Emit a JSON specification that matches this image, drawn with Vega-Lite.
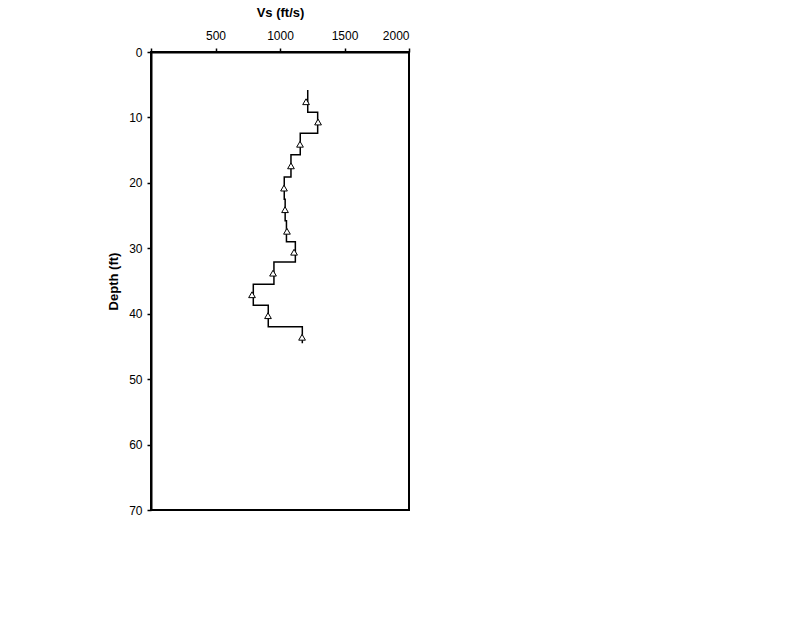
{
  "$schema": "https://vega.github.io/schema/vega-lite/v6.json",
  "width": 258,
  "height": 458,
  "autosize": "none",
  "padding": {"left": 151, "top": 52, "right": 391, "bottom": 108},
  "background": "white",
  "config": {
    "view": {"stroke": "black", "strokeWidth": 2},
    "font": "Liberation Sans",
    "axis": {
      "domainColor": "black", "domainWidth": 2, "tickColor": "black", "tickWidth": 1.5, "tickSize": 4,
      "labelColor": "black", "labelFont": "Liberation Sans", "labelFontSize": 12,
      "titleColor": "black", "titleFont": "Liberation Sans", "titleFontSize": 13, "titleFontWeight": "bold",
      "grid": false
    }
  },
  "datasets": {
    "profile": [
      {"i": 1, "vs": 1215, "depth": 5.8},
      {"i": 2, "vs": 1215, "depth": 9.2},
      {"i": 3, "vs": 1292, "depth": 9.2},
      {"i": 4, "vs": 1292, "depth": 12.4},
      {"i": 5, "vs": 1157, "depth": 12.4},
      {"i": 6, "vs": 1157, "depth": 15.7},
      {"i": 7, "vs": 1085, "depth": 15.7},
      {"i": 8, "vs": 1085, "depth": 19.1},
      {"i": 9, "vs": 1033, "depth": 19.1},
      {"i": 10, "vs": 1033, "depth": 22.5},
      {"i": 11, "vs": 1040, "depth": 22.5},
      {"i": 12, "vs": 1040, "depth": 25.8},
      {"i": 13, "vs": 1050, "depth": 25.8},
      {"i": 14, "vs": 1050, "depth": 29.0},
      {"i": 15, "vs": 1119, "depth": 29.0},
      {"i": 16, "vs": 1119, "depth": 32.1},
      {"i": 17, "vs": 953, "depth": 32.1},
      {"i": 18, "vs": 953, "depth": 35.5},
      {"i": 19, "vs": 793, "depth": 35.5},
      {"i": 20, "vs": 793, "depth": 38.7},
      {"i": 21, "vs": 909, "depth": 38.7},
      {"i": 22, "vs": 909, "depth": 42.0},
      {"i": 23, "vs": 1173, "depth": 42.0},
      {"i": 24, "vs": 1173, "depth": 44.5}
    ],
    "points": [
      {"vs": 1202, "depth": 7.6},
      {"vs": 1295, "depth": 10.7},
      {"vs": 1155, "depth": 14.1},
      {"vs": 1085, "depth": 17.4},
      {"vs": 1031, "depth": 20.8},
      {"vs": 1039, "depth": 24.1},
      {"vs": 1054, "depth": 27.4},
      {"vs": 1109, "depth": 30.6},
      {"vs": 946, "depth": 33.8},
      {"vs": 783, "depth": 37.1},
      {"vs": 907, "depth": 40.3},
      {"vs": 1171, "depth": 43.6}
    ]
  },
  "encoding": {
    "x": {
      "field": "vs", "type": "quantitative",
      "scale": {"domain": [0, 2000], "nice": false, "zero": false},
      "axis": {"orient": "top", "title": "Vs (ft/s)", "values": [0, 500, 1000, 1500, 2000], "labelExpr": "datum.value == 0 ? '' : datum.label", "format": "d", "labelPadding": 6, "titlePadding": 10}
    },
    "y": {
      "field": "depth", "type": "quantitative",
      "scale": {"domain": [0, 70], "reverse": true, "nice": false},
      "axis": {"title": "Depth (ft)", "values": [0, 10, 20, 30, 40, 50, 60, 70], "labelPadding": 5, "titlePadding": 8}
    }
  },
  "layer": [
    {
      "data": {"name": "profile"},
      "mark": {"type": "line", "color": "black", "strokeWidth": 1.5},
      "encoding": {"order": {"field": "i", "type": "quantitative"}}
    },
    {
      "data": {"name": "points"},
      "mark": {"type": "point", "shape": "triangle-up", "size": 45, "filled": true, "fill": "white", "stroke": "black", "strokeWidth": 1, "opacity": 1}
    }
  ]
}
